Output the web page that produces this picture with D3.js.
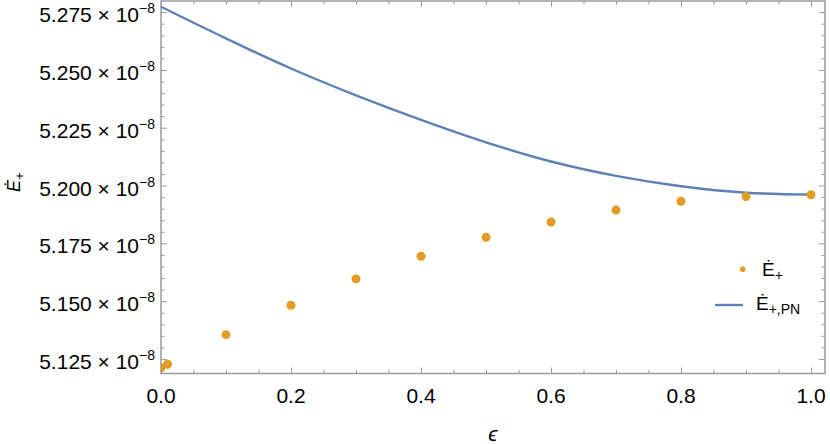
<!DOCTYPE html>
<html>
<head>
<meta charset="utf-8">
<script src="https://cdn.jsdelivr.net/npm/d3@7"></script>
<style>
  body { margin: 0; background: #fff; }
  svg { display: block; font-family: "Liberation Sans", Arial, sans-serif; }
</style>
</head>
<body>
<div id="chart"></div>
<script>
// values in units of 1e-8
const epsPoints = [0, 0.01, 0.1, 0.2, 0.3, 0.4, 0.5, 0.6, 0.7, 0.8, 0.9, 1.0]
const eDotPoints = [5.1212, 5.1227, 5.1355, 5.1482, 5.1596, 5.1694, 5.1776, 5.1842, 5.1894, 5.1932, 5.1952, 5.1960]

const epsCurve = [0, 0.1, 0.2, 0.3, 0.4, 0.5, 0.6, 0.7, 0.8, 0.9, 1.0]
const eDotPN = [5.2773, 5.2636, 5.2506, 5.2390, 5.2284, 5.2187, 5.2104, 5.2042, 5.1997, 5.1969, 5.1961]

const xMajor = [0, 0.2, 0.4, 0.6, 0.8, 1.0]
const yMajor = [5.125, 5.150, 5.175, 5.200, 5.225, 5.250, 5.275]

const width = 830
const height = 444
const margin = { top: 1, right: 5, bottom: 70.5, left: 161 }
const innerW = width - margin.left - margin.right
const innerH = height - margin.top - margin.bottom

const blue = '#5e81b5'
const orange = '#e19c24'
const frameColor = '#9a9a9a'

const x = d3.scaleLinear().domain([0, 1.0215]).range([0, innerW])
const y = d3.scaleLinear().domain([5.1187, 5.2798]).range([innerH, 0])

const xMinor = d3.range(0, 1.0001, 0.05).filter(v => !xMajor.some(m => Math.abs(m - v) < 1e-6))
const yMinor = d3.range(5.125, 5.2751, 0.005).filter(v => !yMajor.some(m => Math.abs(m - v) < 1e-6))

const svg = d3.select('#chart')
  .append('svg')
  .attr('width', width)
  .attr('height', height)

const g = svg.append('g')
  .attr('transform', `translate(${margin.left},${margin.top})`)

svg.append('defs').append('clipPath')
  .attr('id', 'plot-clip')
  .append('rect')
  .attr('width', innerW)
  .attr('height', innerH)

// ticks, drawn inward like a Mathematica frame
const addTicks = (axis, values, size, transform) => {
  g.append('g')
    .attr('class', 'ticks')
    .attr('transform', transform)
    .call(axis.tickValues(values).tickSizeInner(-size).tickSizeOuter(0).tickFormat(''))
    .call(sel => sel.select('.domain').remove())
    .call(sel => sel.selectAll('line').attr('stroke', frameColor).attr('stroke-width', 1))
}

addTicks(d3.axisBottom(x), xMajor, 6, `translate(0,${innerH})`)
addTicks(d3.axisBottom(x), xMinor, 3.5, `translate(0,${innerH})`)
addTicks(d3.axisTop(x), xMajor, 6, 'translate(0,0)')
addTicks(d3.axisTop(x), xMinor, 3.5, 'translate(0,0)')
addTicks(d3.axisLeft(y), yMajor, 6, 'translate(0,0)')
addTicks(d3.axisLeft(y), yMinor, 3.5, 'translate(0,0)')
addTicks(d3.axisRight(y), yMajor, 6, `translate(${innerW},0)`)
addTicks(d3.axisRight(y), yMinor, 3.5, `translate(${innerW},0)`)

// frame
g.append('rect')
  .attr('width', innerW)
  .attr('height', innerH)
  .attr('fill', 'none')
  .attr('stroke', frameColor)
  .attr('stroke-width', 1.5)

// x tick labels
g.selectAll('.x-label')
  .data(xMajor)
  .enter()
  .append('text')
  .attr('class', 'x-label')
  .attr('x', d => x(d))
  .attr('y', innerH + 29.5)
  .attr('text-anchor', 'middle')
  .attr('font-size', 21)
  .text(d3.format('.1f'))

// y tick labels: 5.275 × 10^-8
const yLabels = g.selectAll('.y-label')
  .data(yMajor)
  .enter()
  .append('text')
  .attr('class', 'y-label')
  .attr('x', -6)
  .attr('y', d => y(d) + 10)
  .attr('text-anchor', 'end')
  .attr('font-size', 21)

yLabels.append('tspan').text(d => d3.format('.3f')(d) + ' \u00d7 10')
yLabels.append('tspan')
  .attr('dy', -9)
  .attr('font-size', 14)
  .text('\u22128')

// data
const line = d3.line()
  .x((d, i) => x(epsCurve[i]))
  .y(d => y(d))
  .curve(d3.curveCatmullRom)

const plot = g.append('g').attr('clip-path', 'url(#plot-clip)')

plot.append('path')
  .datum(eDotPN)
  .attr('fill', 'none')
  .attr('stroke', blue)
  .attr('stroke-width', 2.4)
  .attr('d', line)

plot.selectAll('.pt')
  .data(eDotPoints)
  .enter()
  .append('circle')
  .attr('class', 'pt')
  .attr('cx', (d, i) => x(epsPoints[i]))
  .attr('cy', d => y(d))
  .attr('r', 4.5)
  .attr('fill', orange)

// axis titles
svg.append('text')
  .attr('x', margin.left + innerW / 2)
  .attr('y', 441)
  .attr('text-anchor', 'middle')
  .attr('font-size', 21)
  .attr('font-style', 'italic')
  .text('\u03f5')

const yTitle = svg.append('text')
  .attr('transform', 'translate(20,192) rotate(-90)')
  .attr('font-size', 18)
  .attr('font-style', 'italic')
yTitle.append('tspan').text('\u0116')
yTitle.append('tspan').attr('dy', 4).attr('font-size', 13).text('+')

// legend
const legend = svg.append('g')

legend.append('circle')
  .attr('cx', 742.7)
  .attr('cy', 269.3)
  .attr('r', 2.8)
  .attr('fill', orange)

const leg1 = legend.append('text')
  .attr('x', 762)
  .attr('y', 275.5)
  .attr('font-size', 19)
leg1.append('tspan').text('\u0116')
leg1.append('tspan').attr('dy', 4).attr('font-size', 14).text('+')

legend.append('line')
  .attr('x1', 715)
  .attr('x2', 743)
  .attr('y1', 305)
  .attr('y2', 305)
  .attr('stroke', blue)
  .attr('stroke-width', 2.4)

const leg2 = legend.append('text')
  .attr('x', 756)
  .attr('y', 310)
  .attr('font-size', 19)
leg2.append('tspan').text('\u0116')
leg2.append('tspan').attr('dy', 4).attr('font-size', 14).text('+,PN')
</script>
</body>
</html>
